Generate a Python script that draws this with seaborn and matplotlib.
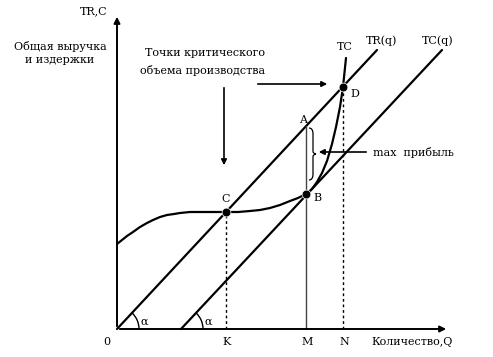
import matplotlib
matplotlib.use("Agg")
import pandas as pd
import matplotlib.pyplot as plt
from matplotlib.patches import Arc, PathPatch
from matplotlib.path import Path
import seaborn as sns

# ========== DATA ==========
# TR(q) - straight line from the origin
tr_q = [0, 260]
tr_v = [0, 279]
# TC(q) - parallel line shifted to the right
tcq_q = [64, 325]
tcq_v = [0, 279]
# TC - total cost curve
tc_q = [0, 5, 10, 16, 23, 30, 36, 43, 50, 57, 63, 73, 83, 96, 109, 121, 133, 143,
        153, 163, 173, 181, 189, 195, 200, 205, 210, 215, 219, 223, 226, 229]
tc_v = [85, 89, 93, 97, 102, 106, 109, 112, 114, 115, 116, 117, 117, 117, 117, 117,
        118, 119, 121, 124, 128, 131, 135, 140, 147, 156, 168, 185, 202, 222, 242, 271]
# marked points
pt_names = ["C", "B", "D"]
pt_q = [109, 189, 226]
pt_v = [117, 135, 242]
# point A on TR above B
a_q, a_v = 189, 203
# quantity marks on the x axis
tick_names = ["K", "M", "N"]
tick_q = [109, 189, 226]

# ========== PLOT ==========
sns.set_style("white")
plt.rcParams["font.family"] = ["DejaVu Serif"]
plt.rcParams["text.color"] = "black"
FS = 8

fig = plt.figure(figsize=(4.93, 3.57), dpi=100)
ax = fig.add_axes([0, 0, 1, 1])
ax.set_xlim(-117, 376)
ax.set_ylim(-28, 329)
ax.axis("off")

# axes with arrows
ax.annotate("", xy=(0, 315), xytext=(0, 0),
            arrowprops=dict(arrowstyle="-|>", color="black", lw=1.4, mutation_scale=9))
ax.annotate("", xy=(332, 0), xytext=(0, 0),
            arrowprops=dict(arrowstyle="-|>", color="black", lw=1.4, mutation_scale=9))

lines = pd.DataFrame({"q": tr_q, "v": tr_v})
sns.lineplot(x="q", y="v", data=lines, color="black", lw=1.6, ax=ax, sort=False)
lines = pd.DataFrame({"q": tcq_q, "v": tcq_v})
sns.lineplot(x="q", y="v", data=lines, color="black", lw=1.6, ax=ax, sort=False)
curve = pd.DataFrame({"q": tc_q, "v": tc_v})
sns.lineplot(x="q", y="v", data=curve, color="black", lw=1.6, ax=ax, sort=False)

# vertical guides
ax.plot([tick_q[0], tick_q[0]], [0, pt_v[0]], ls=(0, (2, 2)), color="black", lw=1.0)
ax.plot([tick_q[2], tick_q[2]], [0, pt_v[2]], ls=(0, (2, 2)), color="black", lw=1.0)
ax.plot([a_q, a_q], [0, a_v], color="#444444", lw=1.0)

pts = pd.DataFrame({"q": pt_q, "v": pt_v})
sns.scatterplot(x="q", y="v", data=pts, color="black", s=40, ax=ax, zorder=5)
ax.set_xlabel("")
ax.set_ylabel("")

# point labels
ax.text(109, 130, "C", fontsize=FS, ha="center", va="center")
ax.text(200, 131, "B", fontsize=FS, ha="center", va="center")
ax.text(238, 235, "D", fontsize=FS, ha="center", va="center")
ax.text(186, 209, "A", fontsize=FS, ha="center", va="center")

# axis labels
ax.text(-10, -13, "0", fontsize=FS, ha="center", va="center")
for name, q in zip(tick_names, tick_q):
    ax.text(q + 1, -13, name, fontsize=FS, ha="center", va="center")
ax.text(295, -13, "Количество,Q", fontsize=FS, ha="center", va="center")
ax.text(-9, 318, "TR,C", fontsize=FS, ha="right", va="center")
ax.text(-57, 283, "Общая выручка", fontsize=FS, ha="center", va="center")
ax.text(-57, 269, "и издержки", fontsize=FS, ha="center", va="center")

# line labels
ax.text(228, 282, "TC", fontsize=FS, ha="center", va="center")
ax.text(265, 288, "TR(q)", fontsize=FS, ha="center", va="center")
ax.text(321, 288, "TC(q)", fontsize=FS, ha="center", va="center")

# critical points note
ax.text(88, 276, "Точки критического", fontsize=FS, ha="center", va="center")
ax.text(86, 259, "объема производства", fontsize=FS, ha="center", va="center")
ax.annotate("", xy=(107, 161), xytext=(107, 244),
            arrowprops=dict(arrowstyle="-|>", color="black", lw=1.2, mutation_scale=8))
ax.annotate("", xy=(213, 245), xytext=(138, 245),
            arrowprops=dict(arrowstyle="-|>", color="black", lw=1.2, mutation_scale=8))

# max profit brace and arrow
bx, top, bot = 194, a_v - 2, pt_v[1] + 14
mid = (top + bot) / 2
verts = [(bx - 2, top), (bx + 2, top), (bx + 2, top - 6),
         (bx + 2, mid + 3), (bx + 2, mid), (bx + 5, mid),
         (bx + 2, mid), (bx + 2, mid - 3),
         (bx + 2, bot + 6), (bx + 2, bot), (bx - 2, bot)]
codes = [Path.MOVETO, Path.CURVE3, Path.CURVE3, Path.LINETO,
         Path.CURVE3, Path.CURVE3, Path.CURVE3, Path.CURVE3,
         Path.LINETO, Path.CURVE3, Path.CURVE3]
ax.add_patch(PathPatch(Path(verts, codes), fc="none", ec="black", lw=0.9))
ax.annotate("", xy=(199, 177), xytext=(252, 177),
            arrowprops=dict(arrowstyle="-|>", color="black", lw=1.2, mutation_scale=8))
ax.text(256, 177, "max  прибыль", fontsize=FS, ha="left", va="center")

# angle marks
for x0 in [tr_q[0], tcq_q[0]]:
    ax.add_patch(Arc((x0, 0), 44, 44, theta1=0, theta2=47, color="black", lw=1.0))
    ax.text(x0 + 27, 7, "α", fontsize=FS, ha="center", va="center")

plt.savefig("out.png", dpi=100)
